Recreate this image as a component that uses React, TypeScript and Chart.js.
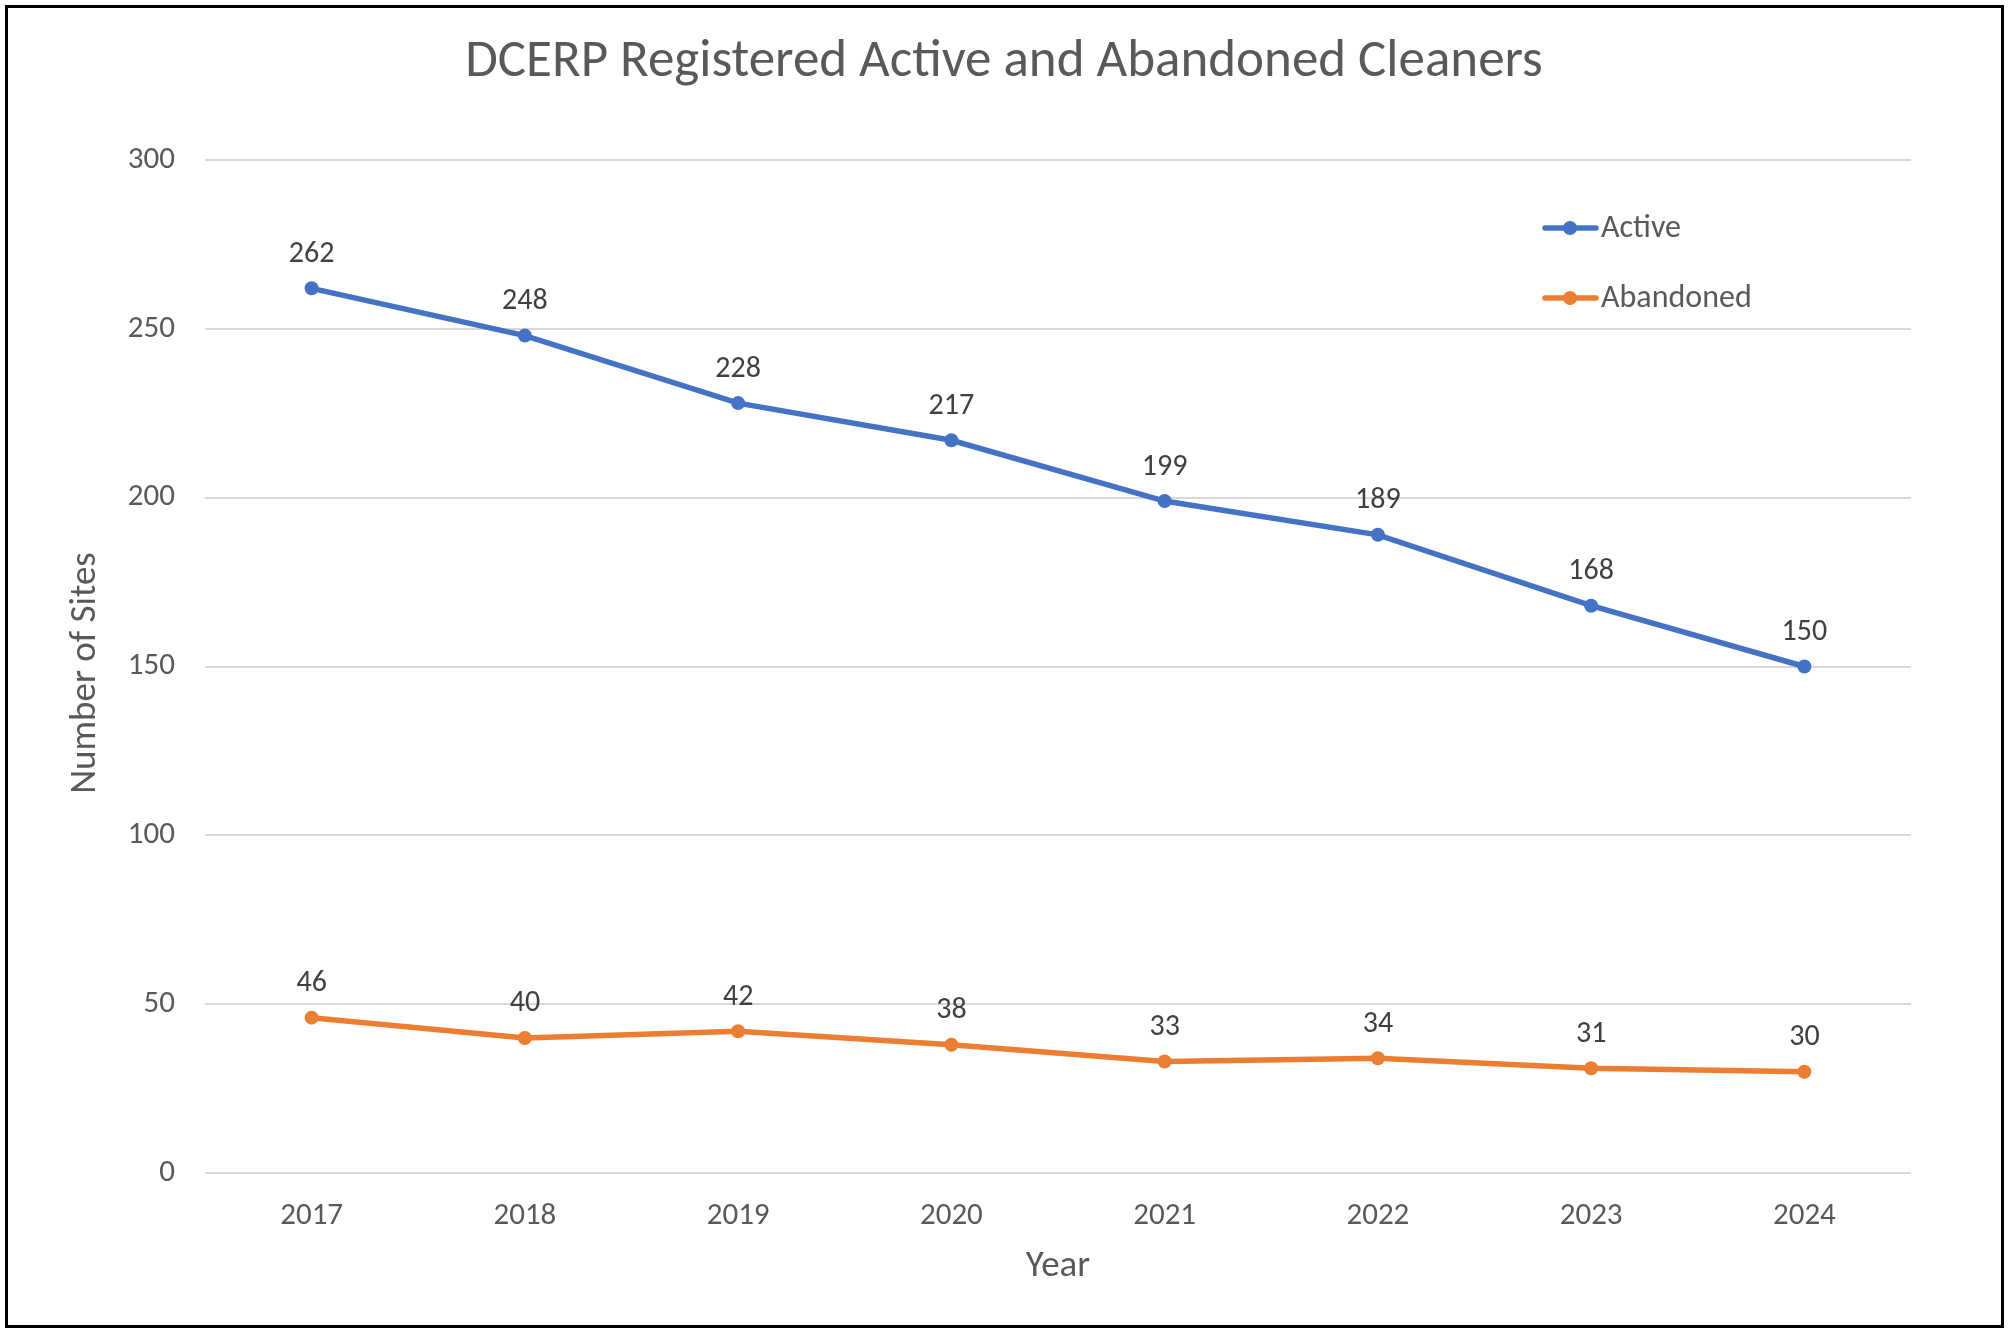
import React, { useEffect, useRef } from "react";
import { Chart, registerables } from "chart.js";

Chart.register(...registerables);

const years = ["2017", "2018", "2019", "2020", "2021", "2022", "2023", "2024"];
const activeSites = [262, 248, 228, 217, 199, 189, 168, 150];
const abandonedSites = [46, 40, 42, 38, 33, 34, 31, 30];
const seriesNames = ["Active", "Abandoned"];
const seriesColors = ["#4472C4", "#ED7D31"];
const chartTitle = "DCERP Registered Active and Abandoned Cleaners";
const xTitle = "Year";
const yTitle = "Number of Sites";

const FONT = "Carlito, Lato, 'Open Sans', sans-serif";

const overlayPlugin = {
  id: "overlay",
  afterDatasetsDraw(chart: any) {
    const ctx = chart.ctx;
    const area = chart.chartArea;
    ctx.save();
    // data labels
    chart.data.datasets.forEach((ds: any, di: number) => {
      const meta = chart.getDatasetMeta(di);
      ctx.fillStyle = "#404040";
      ctx.font = `30px ${FONT}`;
      ctx.textAlign = "center";
      ctx.textBaseline = "middle";
      meta.data.forEach((pt: any, i: number) => {
        ctx.fillText(String(ds.data[i]), pt.x, pt.y - 34);
      });
    });
    // title
    ctx.fillStyle = "#595959";
    ctx.font = `53px ${FONT}`;
    ctx.textAlign = "center";
    ctx.textBaseline = "middle";
    ctx.fillText(chartTitle, 1004, 63);
    // axis titles
    ctx.font = `37px ${FONT}`;
    ctx.fillText(xTitle, (area.left + area.right) / 2, 1267);
    ctx.save();
    ctx.translate(86, 673);
    ctx.rotate(-Math.PI / 2);
    ctx.fillText(yTitle, 0, 0);
    ctx.restore();
    // legend
    const ly = [228, 298];
    seriesNames.forEach((name, i) => {
      ctx.strokeStyle = seriesColors[i];
      ctx.lineWidth = 5.5;
      ctx.lineCap = "round";
      ctx.beginPath();
      ctx.moveTo(1545, ly[i]);
      ctx.lineTo(1596, ly[i]);
      ctx.stroke();
      ctx.fillStyle = seriesColors[i];
      ctx.beginPath();
      ctx.arc(1570, ly[i], 7, 0, Math.PI * 2);
      ctx.fill();
      ctx.fillStyle = "#595959";
      ctx.font = `32px ${FONT}`;
      ctx.textAlign = "left";
      ctx.fillText(name, 1601, ly[i] + 1);
    });
    ctx.restore();
  },
};

export default function App() {
  const ref = useRef<HTMLCanvasElement | null>(null);
  useEffect(() => {
    if (!ref.current) return;
    const chart = new Chart(ref.current, {
      type: "line",
      data: {
        labels: years,
        datasets: [
          {
            label: seriesNames[0],
            data: activeSites,
            borderColor: seriesColors[0],
            backgroundColor: seriesColors[0],
            borderWidth: 5.5,
            pointRadius: 7,
            pointBorderWidth: 0,
            tension: 0,
          },
          {
            label: seriesNames[1],
            data: abandonedSites,
            borderColor: seriesColors[1],
            backgroundColor: seriesColors[1],
            borderWidth: 5.5,
            pointRadius: 7,
            pointBorderWidth: 0,
            tension: 0,
          },
        ],
      },
      options: {
        animation: false,
        responsive: false,
        maintainAspectRatio: false,
        layout: { padding: { left: 0, right: 99, top: 160, bottom: 0 } },
        plugins: {
          legend: { display: false },
          title: { display: false },
          tooltip: { enabled: false },
        },
        scales: {
          x: {
            offset: true,
            grid: { display: false, drawTicks: false },
            border: { display: false },
            ticks: { color: "#595959", font: { family: FONT, size: 31 }, padding: 25 },
            afterFit: (s: any) => { s.height = 1333 - 1173; },
          },
          y: {
            min: 0,
            max: 300,
            ticks: { stepSize: 50, color: "#595959", font: { family: FONT, size: 31 }, padding: 30 },
            grid: { color: "#d9d9d9", lineWidth: 2, drawTicks: false },
            border: { display: false },
            afterFit: (s: any) => { s.width = 205; },
          },
        },
      },
      plugins: [overlayPlugin],
    } as any);
    return () => chart.destroy();
  }, []);
  return (
    <div style={{ position: "absolute", left: 0, top: 0, width: 2010, height: 1333, background: "#fff" }}>
      <canvas ref={ref} width={2010} height={1333} style={{ position: "absolute", left: 0, top: 0, width: 2010, height: 1333 }} />
      <div style={{ position: "absolute", left: 5, top: 5, width: 1999, height: 1323, border: "3px solid #000", boxSizing: "border-box", pointerEvents: "none" }} />
    </div>
  );
}
